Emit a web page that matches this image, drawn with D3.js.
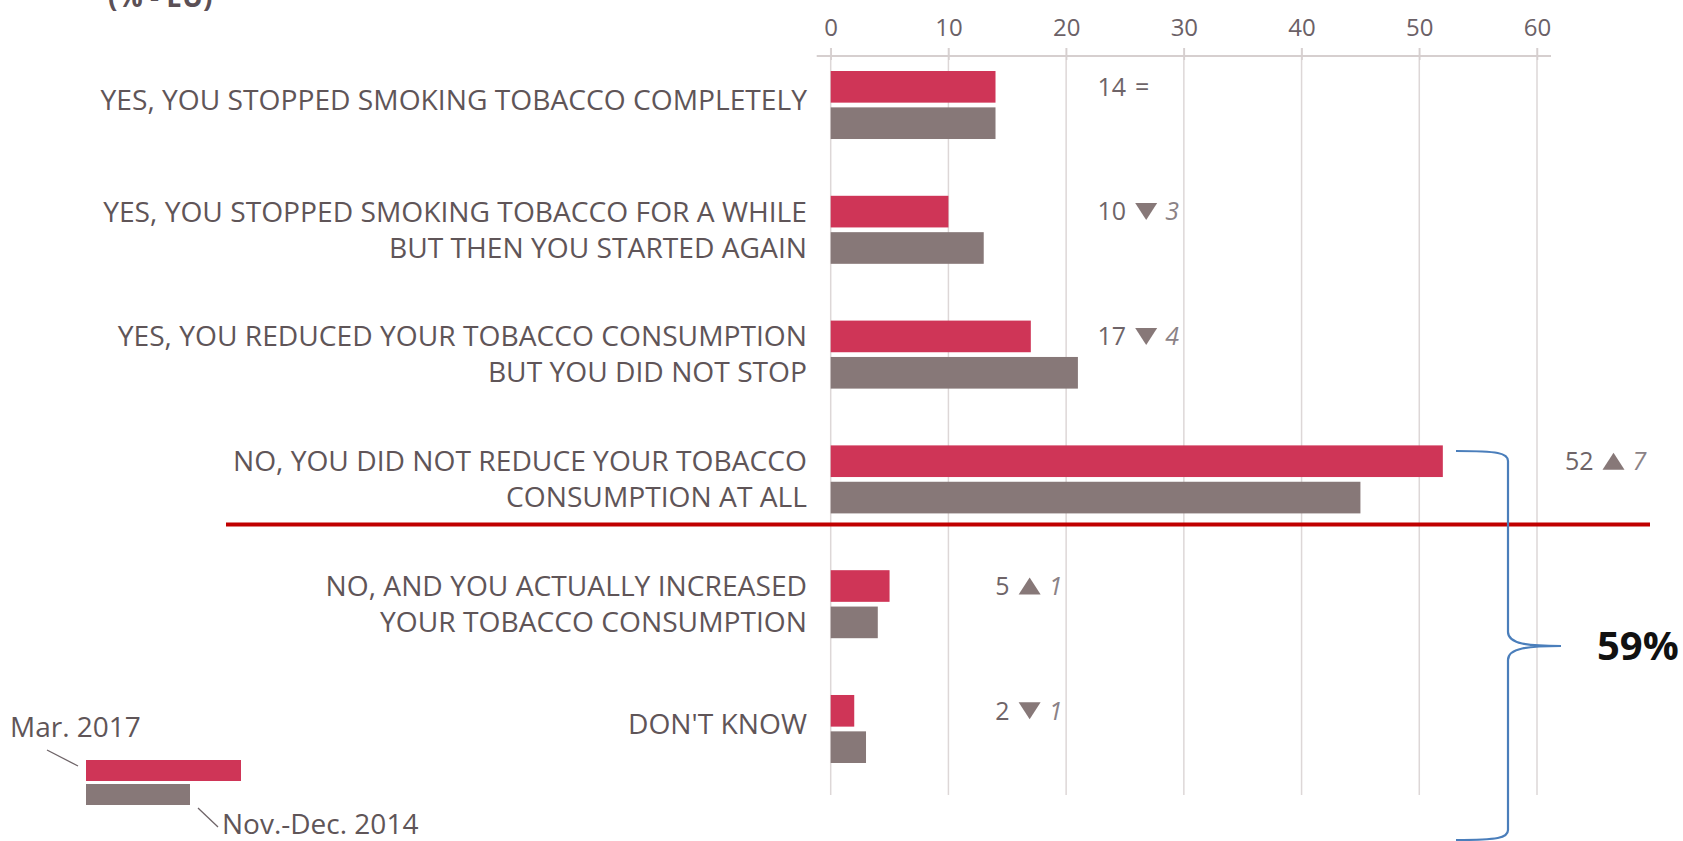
<!DOCTYPE html>
<html>
<head>
<meta charset="utf-8">
<script src="https://cdn.jsdelivr.net/npm/d3@7"></script>
<style>
  html, body { margin: 0; padding: 0; background: #fff; }
  svg { display: block; }
  text { font-family: "Open Sans", "Noto Sans", sans-serif; }
</style>
</head>
<body>
<svg id="chart" width="1683" height="841"></svg>
<script>
// Survey answers (rows) and the two waves compared
const categories = [
  "YES, YOU STOPPED SMOKING TOBACCO COMPLETELY",
  "YES, YOU STOPPED SMOKING TOBACCO FOR A WHILE\nBUT THEN YOU STARTED AGAIN",
  "YES, YOU REDUCED YOUR TOBACCO CONSUMPTION\nBUT YOU DID NOT STOP",
  "NO, YOU DID NOT REDUCE YOUR TOBACCO\nCONSUMPTION AT ALL",
  "NO, AND YOU ACTUALLY INCREASED\nYOUR TOBACCO CONSUMPTION",
  "DON'T KNOW"
];
const waves = ["Mar. 2017", "Nov.-Dec. 2014"];
const mar2017 = [14, 10, 17, 52, 5, 2];
const novDec2014 = [14, 13, 21, 45, 4, 3];
const tickValues = [0, 10, 20, 30, 40, 50, 60];
// Answers grouped under the brace
const bracedRows = [3, 4, 5];
// Axis position (in %) where each row's change note is centred
const noteAt = [26.8, 26.8, 26.8, 66.5, 16.9, 16.9];

const colors = { "Mar. 2017": "#cf3557", "Nov.-Dec. 2014": "#877878" };
const textColor = "#5f5558";
const noteColor = "#6e6468";

const svg = d3.select("#chart");

const x = d3.scaleLinear().domain([0, 60]).range([830.7, 1537]);
const y = d3.scaleBand().domain(categories).range([71, 763]).paddingInner(0.455).paddingOuter(0);
const ySub = d3.scaleBand().domain(waves).range([0, y.bandwidth()]).paddingInner(0.13);

// Title fragment
svg.append("text")
  .attr("x", 108).attr("y", 7)
  .attr("font-size", 28).attr("font-weight", 700)
  .attr("fill", "#5b5056")
  .text("(% - EU)");

// Gridlines
svg.append("g").selectAll("line").data(tickValues).join("line")
  .attr("x1", d => x(d)).attr("x2", d => x(d))
  .attr("y1", 48).attr("y2", 795)
  .attr("stroke", "#ddd7d7").attr("stroke-width", 1.5);

// Top axis
const axis = svg.append("g").attr("transform", "translate(0,56)")
  .call(d3.axisTop(x).tickValues(tickValues).tickSize(8).tickPadding(12));
axis.select(".domain").attr("stroke", "#d6cfcf").attr("stroke-width", 2)
  .attr("d", `M${x(0) - 14},0H${x(60) + 14}`);
axis.selectAll(".tick line").attr("stroke", "#d6cfcf").attr("stroke-width", 1.5).attr("y2", 4).attr("y1", -8);
axis.selectAll(".tick text")
  .attr("font-size", 24).attr("fill", "#6b6167")
  .attr("font-family", "'Open Sans', sans-serif");

// Bars
const rows = categories.map((c, i) => ({
  cat: c, i,
  values: [{ wave: waves[0], v: mar2017[i] }, { wave: waves[1], v: novDec2014[i] }]
}));

const groups = svg.append("g").selectAll("g").data(rows).join("g")
  .attr("transform", d => `translate(0,${y(d.cat)})`);

groups.selectAll("rect").data(d => d.values).join("rect")
  .attr("x", x(0))
  .attr("y", d => ySub(d.wave))
  .attr("width", d => x(d.v) - x(0))
  .attr("height", ySub.bandwidth())
  .attr("fill", d => colors[d.wave]);

// Category labels, right-aligned, centred on the row; one text per line
groups.each(function (d) {
  const lines = d.cat.split("\n");
  const cy = y.bandwidth() / 2;
  const lh = 36;
  lines.forEach((ln, k) => {
    d3.select(this).append("text")
      .attr("text-anchor", "end")
      .attr("font-size", 28.2)
      .attr("fill", textColor)
      .attr("x", 807)
      .attr("y", lines.length === 1 ? cy - 5 : cy + (k - 0.5) * lh)
      .attr("dy", "0.35em")
      .text(ln);
  });
});

// Change notes: current value, direction marker, change since 2014
groups.each(function (d, i) {
  const g = d3.select(this);
  const cx = x(noteAt[i]);
  const cy = ySub(waves[0]) + ySub.bandwidth() / 2;
  const diff = mar2017[i] - novDec2014[i];
  g.append("text")
    .attr("x", cx - 20).attr("y", cy).attr("dy", "0.35em")
    .attr("text-anchor", "end").attr("font-size", 25).attr("fill", noteColor)
    .text(mar2017[i]);
  if (diff === 0) {
    g.append("text")
      .attr("x", cx - 4).attr("y", cy).attr("dy", "0.35em")
      .attr("text-anchor", "middle").attr("font-size", 25).attr("fill", noteColor)
      .text("=");
  } else {
    const w = 11, h = 17;
    const p = diff > 0
      ? `M${cx - w},${cy + h / 2}L${cx + w},${cy + h / 2}L${cx},${cy - h / 2}Z`
      : `M${cx - w},${cy - h / 2}L${cx + w},${cy - h / 2}L${cx},${cy + h / 2}Z`;
    g.append("path").attr("d", p).attr("fill", "#877878");
    g.append("text")
      .attr("x", cx + 19).attr("y", cy).attr("dy", "0.35em")
      .attr("font-size", 25).attr("font-style", "italic").attr("fill", "#8b8286")
      .text(Math.abs(diff));
  }
});

// Divider between the "did not reduce" and "increased" answers
const divY = y(categories[3]) + y.bandwidth() + 11;
svg.append("line")
  .attr("x1", 226).attr("x2", 1650)
  .attr("y1", divY).attr("y2", divY)
  .attr("stroke", "#c00000").attr("stroke-width", 4);

// Brace grouping the last three answers
const bTop = 451, bBot = 840, bx = 1508, bLeft = 1456, bTip = 1561;
const bMid = 646;
const brace = d3.path();
brace.moveTo(bLeft, bTop);
brace.bezierCurveTo(bx - 10, bTop, bx, bTop + 2, bx, bTop + 10);
brace.lineTo(bx, bMid - 14);
brace.bezierCurveTo(bx, bMid - 2, bx + 20, bMid, bTip, bMid);
brace.bezierCurveTo(bx + 20, bMid, bx, bMid + 2, bx, bMid + 14);
brace.lineTo(bx, bBot - 10);
brace.bezierCurveTo(bx, bBot - 2, bx - 10, bBot, bLeft, bBot);
svg.append("path").attr("d", brace.toString())
  .attr("fill", "none").attr("stroke", "#4a7ebb").attr("stroke-width", 2.2);

const bracedTotal = d3.sum(bracedRows, i => mar2017[i]);
svg.append("text")
  .attr("x", 1597).attr("y", bMid).attr("dy", "0.36em")
  .attr("font-family", "Calibri, Carlito, 'Liberation Sans', sans-serif")
  .attr("font-size", 40).attr("font-weight", 700).attr("fill", "#111")
  .text(bracedTotal + "%");

// Legend
const leg = svg.append("g");
leg.append("rect").attr("x", 86).attr("y", 760).attr("width", 155).attr("height", 21).attr("fill", colors[waves[0]]);
leg.append("rect").attr("x", 86).attr("y", 784).attr("width", 104).attr("height", 21).attr("fill", colors[waves[1]]);
leg.append("line").attr("x1", 47).attr("y1", 750).attr("x2", 78).attr("y2", 766)
  .attr("stroke", "#6e6468").attr("stroke-width", 1.3);
leg.append("line").attr("x1", 198).attr("y1", 808).attr("x2", 218).attr("y2", 827)
  .attr("stroke", "#6e6468").attr("stroke-width", 1.3);
leg.append("text").attr("x", 10).attr("y", 737).attr("font-size", 28).attr("fill", textColor).text(waves[0]);
leg.append("text").attr("x", 222).attr("y", 834).attr("font-size", 28).attr("fill", textColor).text(waves[1]);
</script>
</body>
</html>
